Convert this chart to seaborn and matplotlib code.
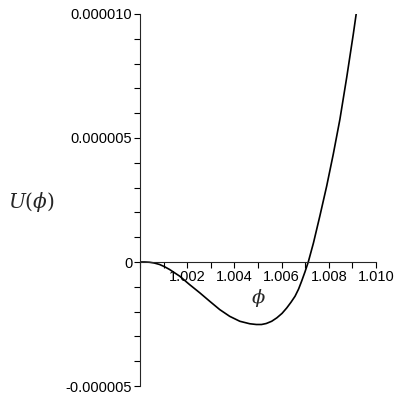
import numpy as np
import pandas as pd
import seaborn as sns
import matplotlib.pyplot as plt
from matplotlib.ticker import MultipleLocator

# values
phi = [1.00000, 1.00020, 1.00040, 1.00060, 1.00083, 1.00104, 1.00125, 1.00168,
       1.00210, 1.00253, 1.00295, 1.00338, 1.00380, 1.00423, 1.00465, 1.00493,
       1.00515, 1.00535, 1.00558, 1.00580, 1.00602, 1.00622, 1.00640, 1.00657,
       1.00672, 1.00685, 1.00699, 1.00713, 1.00735, 1.00762, 1.00791, 1.00819,
       1.00847, 1.00876, 1.00904, 1.00916]
U = [0.0, 0.0, -0.01e-6, -0.04e-6, -0.10e-6, -0.19e-6, -0.30e-6, -0.57e-6,
     -0.91e-6, -1.24e-6, -1.58e-6, -1.92e-6, -2.19e-6, -2.39e-6, -2.49e-6, -2.52e-6,
     -2.52e-6, -2.48e-6, -2.39e-6, -2.25e-6, -2.07e-6, -1.85e-6, -1.62e-6, -1.38e-6,
     -1.09e-6, -0.77e-6, -0.40e-6, 0.0, 0.77e-6, 1.85e-6, 3.06e-6, 4.35e-6,
     5.75e-6, 7.45e-6, 9.20e-6, 10.0e-6]

xticks = [1.002, 1.004, 1.006, 1.008, 1.010]
ytick_labels = {-5e-6: '-0.000005', 0.0: '0', 5e-6: '0.000005', 1e-5: '0.000010'}

sns.set_style('ticks')
plt.rcParams['font.family'] = ['Liberation Sans', 'DejaVu Sans']
plt.rcParams['mathtext.fontset'] = 'dejavuserif'

df = pd.DataFrame({'phi': phi, 'U': U})

fig = plt.figure(figsize=(4, 4), dpi=100)
ax = fig.add_axes([0.35, 0.035, 0.59, 0.93])
sns.lineplot(data=df, x='phi', y='U', color='black', linewidth=1.2, ax=ax)

ax.set_xlim(1.000, 1.010)
ax.set_ylim(-5e-6, 1e-5)

ax.spines['top'].set_visible(False)
ax.spines['right'].set_visible(False)
ax.spines['bottom'].set_position(('data', 0))
for s in ['left', 'bottom']:
    ax.spines[s].set_linewidth(0.8)

ax.set_xticks(xticks)
ax.set_xticklabels(['%.3f' % t for t in xticks])
ax.xaxis.set_minor_locator(MultipleLocator(0.001))
ax.set_yticks(list(ytick_labels.keys()))
ax.set_yticklabels(list(ytick_labels.values()))
ax.yaxis.set_minor_locator(MultipleLocator(1e-6))

ax.tick_params(axis='both', which='both', length=4, width=0.8, labelsize=10.5,
               color='black', labelcolor='black', pad=1.5)

ax.set_xlabel(r'$\phi$', fontsize=14)
ax.xaxis.set_label_coords(0.5, 0.265)
ax.set_ylabel(r'$U(\phi)$', fontsize=14.5, rotation=0, va='center')
ax.yaxis.set_label_coords(-0.46, 0.495)

fig.savefig('out.png', dpi=100)
